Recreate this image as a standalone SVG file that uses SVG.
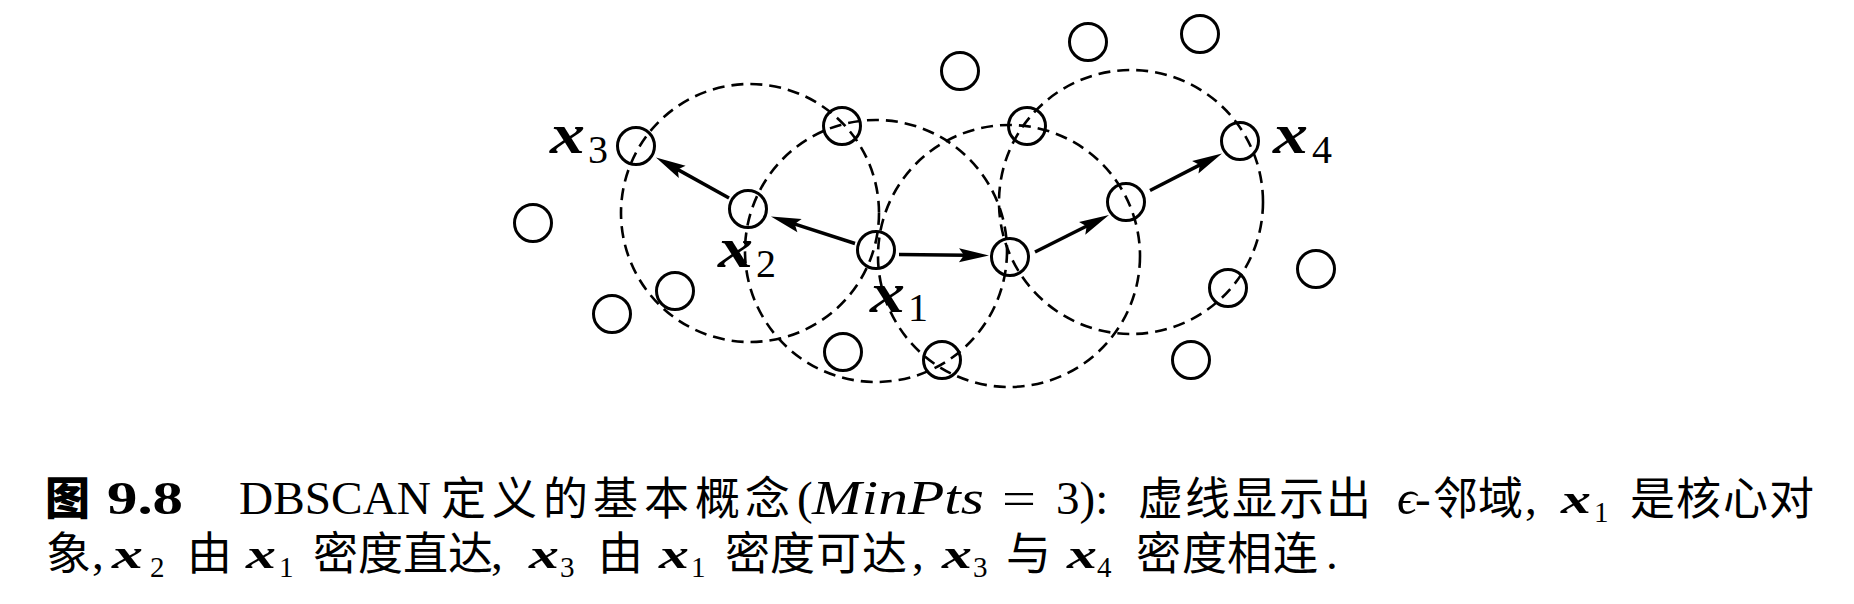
<svg xmlns="http://www.w3.org/2000/svg" width="1854" height="604" viewBox="0 0 1854 604">
<style>
.pt{fill:none;stroke:#000;stroke-width:3}
.nb{fill:none;stroke:#000;stroke-width:2.6;stroke-dasharray:12 7}
.ar{fill:none;stroke:#000;stroke-width:3.5;marker-end:url(#ah)}
.mx{font-family:"Liberation Serif",serif;font-weight:bold;font-style:italic}
.sb{font-family:"Liberation Serif",serif}
.lx{font-size:57px}
.ls{font-size:40px}
.cx{font-size:41px}
.cs{font-size:29px}
.rm{font-family:"Liberation Serif",serif;font-size:47px}
.it{font-family:"Liberation Serif",serif;font-size:49px;font-style:italic}
.cj{font-family:"Noto Sans CJK SC",sans-serif;font-size:45px}
</style>
<defs>
<marker id="ah" markerUnits="userSpaceOnUse" orient="auto" refX="0" refY="0" markerWidth="40" markerHeight="20" overflow="visible">
<path d="M22,0 L-8,-7 L-3,0 L-8,7 Z" fill="#000"/>
</marker>
</defs>
<rect width="1854" height="604" fill="#fff"/>

<g id="neighborhoods">
<circle class="nb" cx="750" cy="213" r="129"/>
<circle class="nb" cx="876" cy="251" r="131"/>
<circle class="nb" cx="1009" cy="256" r="131"/>
<circle class="nb" cx="1131" cy="202" r="132"/>
</g>

<g id="x3"><circle class="pt" cx="636" cy="146" r="18.5"/><text class="mx lx" x="550" y="153" textLength="35" lengthAdjust="spacingAndGlyphs">x</text><text class="sb ls" x="588" y="163">3</text></g>
<g id="x2"><circle class="pt" cx="748" cy="209" r="18.5"/><text class="mx lx" x="718" y="267" textLength="35" lengthAdjust="spacingAndGlyphs">x</text><text class="sb ls" x="756" y="277">2</text></g>
<g id="x1"><circle class="pt" cx="876" cy="250" r="18.5"/><text class="mx lx" x="870" y="312" textLength="35" lengthAdjust="spacingAndGlyphs">x</text><text class="sb ls" x="908" y="321">1</text></g>
<g id="x4"><circle class="pt" cx="1240" cy="141" r="18.5"/><text class="mx lx" x="1273" y="153" textLength="35" lengthAdjust="spacingAndGlyphs">x</text><text class="sb ls" x="1312" y="163">4</text></g>
<g id="p5"><circle class="pt" cx="1010" cy="257" r="18.5"/></g>
<g id="p6"><circle class="pt" cx="1126" cy="202" r="18.5"/></g>
<g id="p7"><circle class="pt" cx="842" cy="126" r="18.5"/></g>
<g id="p8"><circle class="pt" cx="1027" cy="126" r="18.5"/></g>
<g id="p9"><circle class="pt" cx="960" cy="71" r="18.5"/></g>
<g id="p10"><circle class="pt" cx="1088" cy="42" r="18.5"/></g>
<g id="p11"><circle class="pt" cx="1200" cy="34" r="18.5"/></g>
<g id="p12"><circle class="pt" cx="533" cy="223" r="18.5"/></g>
<g id="p13"><circle class="pt" cx="675" cy="291" r="18.5"/></g>
<g id="p14"><circle class="pt" cx="612" cy="314" r="18.5"/></g>
<g id="p15"><circle class="pt" cx="843" cy="352" r="18.5"/></g>
<g id="p16"><circle class="pt" cx="942" cy="360" r="18.5"/></g>
<g id="p17"><circle class="pt" cx="1316" cy="269" r="18.5"/></g>
<g id="p18"><circle class="pt" cx="1228" cy="288" r="18.5"/></g>
<g id="p19"><circle class="pt" cx="1191" cy="360" r="18.5"/></g>

<g id="connectors">
<line class="ar" x1="855" y1="243.5" x2="791.9" y2="223.2"/>
<line class="ar" x1="729" y1="198" x2="675.2" y2="168.1"/>
<line class="ar" x1="899" y1="254.5" x2="967" y2="255.3"/>
<line class="ar" x1="1035" y1="252" x2="1089.3" y2="224.8"/>
<line class="ar" x1="1150" y1="190.5" x2="1202.4" y2="163.6"/>
</g>

<g id="caption">
<text class="cj" x="45" y="515" font-weight="900" font-size="44">图</text>
<text class="rm" x="107" y="514" font-weight="bold" textLength="76" lengthAdjust="spacingAndGlyphs">9.8</text>
<text class="rm" x="239" y="514" textLength="192" lengthAdjust="spacingAndGlyphs">DBSCAN</text>
<text class="cj" x="441 492 543 593 644 695 745" y="515">定义的基本概念</text>
<text class="rm" x="797" y="514">(</text>
<text class="it" x="812" y="514" textLength="172" lengthAdjust="spacingAndGlyphs">MinPts</text>
<text class="rm" x="1002" y="514" textLength="34" lengthAdjust="spacingAndGlyphs">=</text>
<text class="rm" x="1056" y="514">3):</text>
<text class="cj" x="1138 1185 1232 1279 1326" y="515">虚线显示出</text>
<text class="it" x="1397" y="514" font-family="DejaVu Serif" font-size="29">ϵ</text>
<text class="rm" x="1415" y="514">-</text>
<text class="cj" x="1433 1478" y="515">邻域</text>
<text class="rm" x="1525" y="514">,</text>
<text class="mx cx" x="1561" y="513" textLength="30" lengthAdjust="spacingAndGlyphs">x</text>
<text class="sb cs" x="1594" y="522">1</text>
<text class="cj" x="1630 1676 1723 1769" y="515">是核心对</text>

<text class="cj" x="46" y="570">象</text>
<text class="rm" x="92" y="569">,</text>
<text class="mx cx" x="112" y="568" textLength="31" lengthAdjust="spacingAndGlyphs">x</text>
<text class="sb cs" x="150" y="577">2</text>
<text class="cj" x="187" y="570">由</text>
<text class="mx cx" x="246" y="568" textLength="30" lengthAdjust="spacingAndGlyphs">x</text>
<text class="sb cs" x="279" y="577">1</text>
<text class="cj" x="313 358 403 448" y="570">密度直达</text>
<text class="rm" x="491" y="569">,</text>
<text class="mx cx" x="529" y="568" textLength="30" lengthAdjust="spacingAndGlyphs">x</text>
<text class="sb cs" x="560" y="577">3</text>
<text class="cj" x="598" y="570">由</text>
<text class="mx cx" x="659" y="568" textLength="30" lengthAdjust="spacingAndGlyphs">x</text>
<text class="sb cs" x="691" y="577">1</text>
<text class="cj" x="725 770 816 862" y="570">密度可达</text>
<text class="rm" x="912" y="569">,</text>
<text class="mx cx" x="942" y="568" textLength="30" lengthAdjust="spacingAndGlyphs">x</text>
<text class="sb cs" x="973" y="577">3</text>
<text class="cj" x="1006" y="570">与</text>
<text class="mx cx" x="1067" y="568" textLength="30" lengthAdjust="spacingAndGlyphs">x</text>
<text class="sb cs" x="1097" y="577">4</text>
<text class="cj" x="1136 1182 1227 1273" y="570">密度相连</text>
<text class="rm" x="1326" y="569">.</text>
</g>
</svg>
